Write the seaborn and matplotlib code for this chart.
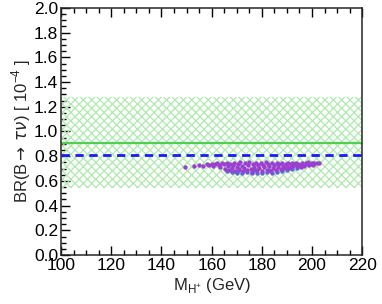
import numpy as np
import pandas as pd
import seaborn as sns
import matplotlib.pyplot as plt
from matplotlib.ticker import MultipleLocator

# measured values
sm_central = 0.91
sm_low, sm_high = 0.54, 1.28
exp_value = 0.81

# scan points (purple)
mh_purple = [149.5, 153.0, 155.0, 156.5, 158.0, 159.0, 160.0, 160.5, 161.5, 162.0,
             163.0, 163.5, 164.0, 165.0, 165.5, 166.0, 166.5, 167.0, 167.5, 168.0,
             168.5, 169.0, 169.5, 170.0, 170.5, 171.0, 171.5, 172.0, 172.5, 173.0,
             173.5, 174.0, 174.5, 175.0, 175.5, 176.0, 176.5, 177.0, 177.5, 178.0,
             178.5, 179.0, 179.5, 180.0, 180.5, 181.0, 181.5, 182.0, 182.5, 183.0,
             183.5, 184.0, 184.5, 185.0, 185.5, 186.0, 186.5, 187.0, 187.5, 188.0,
             188.5, 189.0, 189.5, 190.0, 190.5, 191.0, 191.5, 192.0, 192.5, 193.0,
             193.5, 194.0, 194.5, 195.0, 195.5, 196.0, 196.5, 197.0, 197.5, 198.0,
             198.5, 199.0, 199.5, 200.0, 200.5, 201.0, 202.0, 203.0]
br_purple = [0.710, 0.722, 0.728, 0.720, 0.735, 0.728, 0.740, 0.722, 0.735, 0.745,
             0.728, 0.712, 0.742, 0.735, 0.700, 0.748, 0.720, 0.690, 0.740, 0.705,
             0.728, 0.748, 0.682, 0.715, 0.738, 0.695, 0.750, 0.722, 0.680, 0.708,
             0.742, 0.690, 0.728, 0.752, 0.700, 0.675, 0.735, 0.715, 0.748, 0.688,
             0.725, 0.705, 0.742, 0.678, 0.730, 0.712, 0.750, 0.692, 0.735, 0.718,
             0.682, 0.745, 0.702, 0.728, 0.690, 0.742, 0.712, 0.735, 0.698, 0.748,
             0.720, 0.705, 0.738, 0.715, 0.745, 0.708, 0.730, 0.742, 0.718, 0.735,
             0.748, 0.722, 0.740, 0.728, 0.712, 0.745, 0.732, 0.720, 0.742, 0.735,
             0.750, 0.728, 0.740, 0.745, 0.732, 0.748, 0.742, 0.745]

# scan points (blue, underneath)
mh_blue = [166, 168, 170, 171, 172, 174, 176, 177, 178, 180, 182, 183, 184, 186, 188, 190, 192, 194]
br_blue = [0.680, 0.672, 0.668, 0.688, 0.665, 0.670, 0.662, 0.685, 0.668, 0.664,
           0.670, 0.686, 0.668, 0.675, 0.680, 0.690, 0.698, 0.705]

sns.set_style("ticks")
plt.rcParams['font.family'] = ['Liberation Sans', 'DejaVu Sans']
plt.rcParams['hatch.linewidth'] = 0.9

fig = plt.figure(figsize=(3.82, 3.04), dpi=100)
ax = fig.add_axes([0.160, 0.161, 0.788, 0.813])

xs = [100, 220]
ax.fill_between(xs, sm_low, sm_high, facecolor='none', edgecolor='#aeeaae',
                hatch='xxxx', linewidth=0, zorder=1)
ax.axhline(sm_central, color='#4fcf4f', lw=1.6, zorder=2)
ax.axhline(exp_value, color='#1a1aff', lw=2.0, ls=(0, (3, 2)), zorder=2)

blue = pd.DataFrame({'mh': mh_blue, 'br': br_blue})
purple = pd.DataFrame({'mh': mh_purple, 'br': br_purple})
sns.scatterplot(data=blue, x='mh', y='br', color='#5a6ad0', s=10, linewidth=0,
                ax=ax, zorder=3)
sns.scatterplot(data=purple, x='mh', y='br', color='#9a3fcf', s=10, linewidth=0,
                ax=ax, zorder=4)

ax.set_xlim(100, 220)
ax.set_ylim(0, 2.0)
ax.xaxis.set_major_locator(MultipleLocator(20))
ax.xaxis.set_minor_locator(MultipleLocator(5))
ax.yaxis.set_major_locator(MultipleLocator(0.2))
ax.yaxis.set_minor_locator(MultipleLocator(0.05))
ax.yaxis.set_major_formatter(plt.FormatStrFormatter('%.1f'))
ax.tick_params(which='both', direction='in', top=True, right=False, labelsize=12.5,
               width=1.0, colors='black', pad=2)
ax.tick_params(which='major', length=6.5)
ax.tick_params(which='minor', length=3.5)
for sp in ax.spines.values():
    sp.set_linewidth(1.1)

ax.set_xlabel(r'M$_{\mathregular{H^{+}}}$ (GeV)', fontsize=12, labelpad=2)
ax.set_ylabel(r'BR(B$\rightarrow\,\tau\nu$) [ 10$^{\mathregular{-4}}$ ]', fontsize=12, labelpad=1)

fig.savefig('out.png', dpi=100)
